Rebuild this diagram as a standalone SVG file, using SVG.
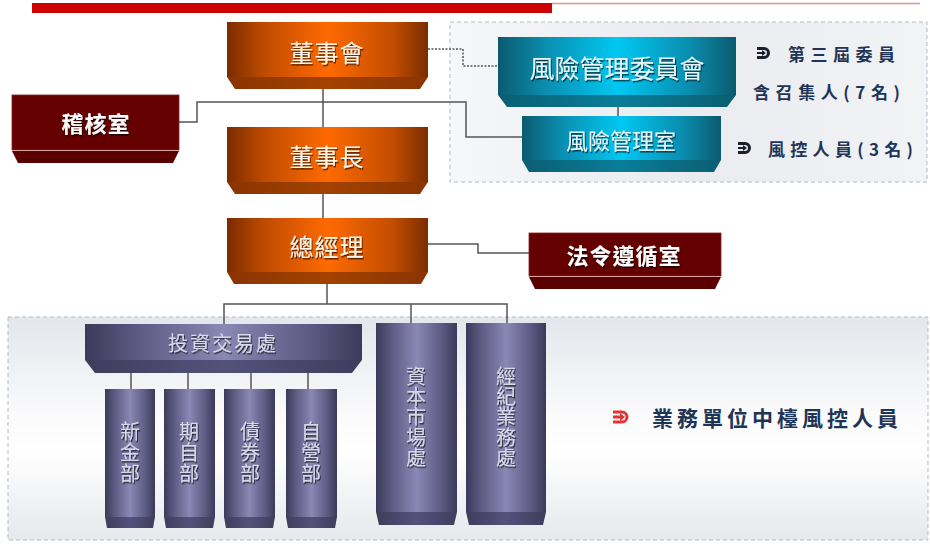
<svg xmlns="http://www.w3.org/2000/svg" width="930" height="544" viewBox="0 0 930 544">
<defs>
<linearGradient id="orF" x1="0" y1="0" x2="1" y2="0">
<stop offset="0" stop-color="#7a2c00"/><stop offset="0.18" stop-color="#bd4a00"/><stop offset="0.5" stop-color="#ff6a00"/><stop offset="0.82" stop-color="#c44e00"/><stop offset="1" stop-color="#7a2c00"/>
</linearGradient>
<linearGradient id="orB" x1="0" y1="0" x2="1" y2="0">
<stop offset="0" stop-color="#8a3400"/><stop offset="0.5" stop-color="#a34200"/><stop offset="1" stop-color="#8a3400"/>
</linearGradient>
<linearGradient id="tlF" x1="0" y1="0" x2="1" y2="0">
<stop offset="0" stop-color="#0b5a6e"/><stop offset="0.2" stop-color="#0a8eb0"/><stop offset="0.5" stop-color="#00c8f2"/><stop offset="0.8" stop-color="#0a8eb0"/><stop offset="1" stop-color="#0b5a6e"/>
</linearGradient>
<linearGradient id="tlB" x1="0" y1="0" x2="1" y2="0">
<stop offset="0" stop-color="#0a5e72"/><stop offset="0.5" stop-color="#0b7d98"/><stop offset="1" stop-color="#0a5e72"/>
</linearGradient>
<linearGradient id="ppF" x1="0" y1="0" x2="1" y2="0">
<stop offset="0" stop-color="#3b3a5a"/><stop offset="0.2" stop-color="#5e5c84"/><stop offset="0.5" stop-color="#8a88b4"/><stop offset="0.8" stop-color="#5e5c84"/><stop offset="1" stop-color="#3b3a5a"/>
</linearGradient>
<linearGradient id="ppB" x1="0" y1="0" x2="1" y2="0">
<stop offset="0" stop-color="#3e3d5c"/><stop offset="0.5" stop-color="#54527a"/><stop offset="1" stop-color="#3e3d5c"/>
</linearGradient>
<linearGradient id="panel" x1="0" y1="0" x2="0" y2="1">
<stop offset="0" stop-color="#e3e6eb"/><stop offset="0.45" stop-color="#fbfbfc"/><stop offset="0.6" stop-color="#ffffff"/><stop offset="1" stop-color="#e6e8ec"/>
</linearGradient>
<linearGradient id="panel2" x1="0" y1="0" x2="1" y2="0">
<stop offset="0" stop-color="#f6f7f9"/><stop offset="0.5" stop-color="#e9ebef"/><stop offset="1" stop-color="#f2f3f5"/>
</linearGradient>
<filter id="sh" x="-10%" y="-20%" width="130%" height="150%">
<feDropShadow dx="1" dy="1.5" stdDeviation="0.6" flood-color="#000000" flood-opacity="0.65"/>
</filter>
</defs>
<style>
text{font-family:"Noto Sans CJK TC","Noto Sans CJK SC",sans-serif;}
.conn{fill:none;stroke:#555555;stroke-width:1.5;}
.dash{fill:none;stroke:#555555;stroke-width:1.5;stroke-dasharray:2 1.5;}
.pbox{stroke:#b3bcc8;stroke-width:1;stroke-dasharray:4 3;}
.wt{fill:#fff6ec;text-anchor:middle;dominant-baseline:central;filter:url(#sh);}
.rt{fill:#ffffff;text-anchor:middle;dominant-baseline:central;font-weight:bold;filter:url(#sh);}
.tt{fill:#e6f6fb;text-anchor:middle;dominant-baseline:central;filter:url(#sh);}
.pt{fill:#d8d8ea;text-anchor:middle;dominant-baseline:central;filter:url(#sh);}
.vt{fill:#d8d8ea;text-anchor:middle;writing-mode:vertical-rl;text-orientation:upright;filter:url(#sh);font-size:20px;}
.nt{fill:#1e3557;font-weight:bold;dominant-baseline:central;}
.ic{fill:none;stroke-width:3;}
</style>

<rect x="32" y="3" width="520" height="10" fill="#cc0000"/>
<line x1="552" y1="3.5" x2="920" y2="3.5" stroke="#e49090" stroke-width="1.5"/>

<g id="risk-panel">
<rect class="pbox" x="450" y="22" width="477" height="160" fill="url(#panel2)"/>
</g>
<g id="business-panel">
<rect class="pbox" x="8" y="317" width="920" height="223" fill="url(#panel)"/>
</g>

<g id="connectors">
<path class="conn" d="M323 89 V127"/>
<path class="conn" d="M179 122 H197 V102 H466 V137 H522"/>
<path class="dash" d="M428 49 H463 V66 H498"/>
<path class="conn" d="M618 107 V116"/>
<path class="conn" d="M323 194 V218"/>
<path class="conn" d="M428 244 H478 V253 H529"/>
<path class="conn" d="M327 284 V304"/>
<path class="conn" d="M224 324 V304 H507 V323"/>
<path class="conn" d="M411 304 V323"/>
<path class="conn" d="M131 373 V389"/>
<path class="conn" d="M188 373 V389"/>
<path class="conn" d="M251 373 V389"/>
<path class="conn" d="M308 373 V389"/>
</g>

<g id="board">
<rect x="227" y="22" width="201" height="55" fill="url(#orF)"/>
<polygon points="227,77 428,77 420,89 235,89" fill="url(#orB)"/>
<text class="wt" x="327" y="51" font-size="24" letter-spacing="1">董事會</text>
</g>

<g id="audit">
<rect x="12" y="95" width="167" height="55" fill="#640000" stroke="#8a2020" stroke-width="0.8"/>
<polygon points="12,151 179,151 173,163 18,163" fill="#5a0000"/>
<line x1="12" y1="150.5" x2="179" y2="150.5" stroke="#d8a0a0" stroke-width="1"/>
<text class="rt" x="96" y="122" font-size="22" letter-spacing="1">稽核室</text>
</g>

<g id="chairman">
<rect x="227" y="127" width="201" height="55" fill="url(#orF)"/>
<polygon points="227,182 428,182 420,194 235,194" fill="url(#orB)"/>
<text class="wt" x="327" y="155" font-size="24" letter-spacing="1">董事長</text>
</g>

<g id="gm">
<rect x="227" y="218" width="201" height="54" fill="url(#orF)"/>
<polygon points="227,272 428,272 421,284 234,284" fill="url(#orB)"/>
<text class="wt" x="327" y="245" font-size="24" letter-spacing="1">總經理</text>
</g>

<g id="compliance">
<rect x="529" y="233" width="192" height="43" fill="#640000" stroke="#8a2020" stroke-width="0.8"/>
<polygon points="529,277 721,277 715,289 535,289" fill="#5a0000"/>
<line x1="529" y1="276.5" x2="721" y2="276.5" stroke="#d8a0a0" stroke-width="1"/>
<text class="rt" x="624" y="254" font-size="22" letter-spacing="1">法令遵循室</text>
</g>

<g id="risk-committee">
<rect x="498" y="37" width="238" height="58" fill="url(#tlF)"/>
<polygon points="498,95 736,95 727,107 507,107" fill="url(#tlB)"/>
<text class="tt" x="617" y="67" font-size="25">風險管理委員會</text>
</g>

<g id="risk-office">
<rect x="522" y="116" width="199" height="44" fill="url(#tlF)"/>
<polygon points="522,160 721,160 714,172 529,172" fill="url(#tlB)"/>
<text class="tt" x="621" y="139" font-size="22">風險管理室</text>
</g>

<g id="risk-notes">
<path class="ic" stroke="#1a1f2a" d="M757 48.5 H764 A4.5 4.5 0 0 1 764 57.5 H757"/>
<path fill="#1a1f2a" d="M757 52 H762 V50 L766 53 L762 56 V54 H757 Z"/>
<text class="nt" x="788" y="53" font-size="17" textLength="107" lengthAdjust="spacing">第三屆委員</text>
<text class="nt" x="753" y="91" font-size="17" textLength="147" lengthAdjust="spacing">含召集人(7名)</text>
<path class="ic" stroke="#1a1f2a" d="M738 143.5 H745 A4.5 4.5 0 0 1 745 152.5 H738"/>
<path fill="#1a1f2a" d="M738 147 H743 V145 L747 148 L743 151 V149 H738 Z"/>
<text class="nt" x="768" y="148" font-size="17" textLength="145" lengthAdjust="spacing">風控人員(3名)</text>
</g>

<g id="investment">
<rect x="85" y="324" width="277" height="36" fill="url(#ppF)"/>
<polygon points="85,360 362,360 352,373 95,373" fill="url(#ppB)"/>
<text class="pt" x="223" y="342" font-size="20" letter-spacing="2">投資交易處</text>
</g>

<g id="dept-new">
<rect x="105" y="389" width="50" height="128" fill="url(#ppF)"/>
<polygon points="105,517 155,517 153,528 107,528" fill="url(#ppB)"/>
<text class="vt" x="130" y="453" letter-spacing="1">新金部</text>
</g>
<g id="dept-futures">
<rect x="164" y="389" width="51" height="128" fill="url(#ppF)"/>
<polygon points="164,517 215,517 213,528 166,528" fill="url(#ppB)"/>
<text class="vt" x="189" y="453" letter-spacing="1">期自部</text>
</g>
<g id="dept-bond">
<rect x="224" y="389" width="51" height="128" fill="url(#ppF)"/>
<polygon points="224,517 275,517 273,528 226,528" fill="url(#ppB)"/>
<text class="vt" x="250" y="453" letter-spacing="1">債券部</text>
</g>
<g id="dept-prop">
<rect x="286" y="389" width="51" height="128" fill="url(#ppF)"/>
<polygon points="286,517 337,517 335,528 288,528" fill="url(#ppB)"/>
<text class="vt" x="311" y="453" letter-spacing="1">自營部</text>
</g>

<g id="capital-markets">
<rect x="376" y="323" width="81" height="189" fill="url(#ppF)"/>
<polygon points="376,512 457,512 454,525 379,525" fill="url(#ppB)"/>
<text class="vt" x="416" y="417" letter-spacing="0.3">資本市場處</text>
</g>
<g id="brokerage">
<rect x="466" y="323" width="80" height="189" fill="url(#ppF)"/>
<polygon points="466,512 546,512 543,525 469,525" fill="url(#ppB)"/>
<text class="vt" x="506" y="417" letter-spacing="0.3">經紀業務處</text>
</g>

<g id="business-note">
<path class="ic" stroke="#e43434" stroke-width="3.5" d="M613 412 H622 A5 5 0 0 1 622 422 H613"/>
<path fill="#e43434" d="M613 415.5 H620 V413 L625 417 L620 421 V418.5 H613 Z"/>
<text class="nt" x="652" y="417" font-size="21" textLength="246" lengthAdjust="spacing">業務單位中檯風控人員</text>
</g>
</svg>
